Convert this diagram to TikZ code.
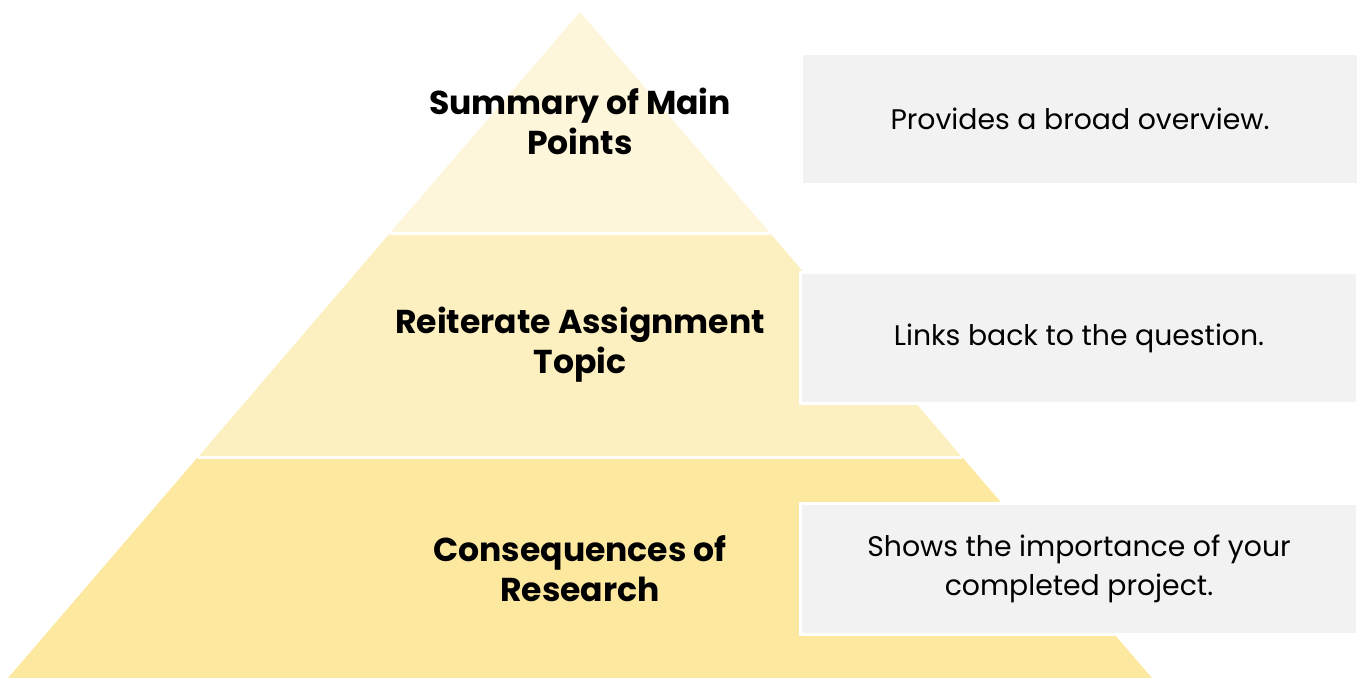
\documentclass[tikz,border=0pt]{standalone}
\usepackage{fontspec}
\setmainfont{Poppins}
\usepackage{xcolor}
\usepackage{tikz}
\usetikzlibrary{positioning}

\definecolor{bandtop}{HTML}{FDF6DA}
\definecolor{bandmid}{HTML}{FDF0C0}
\definecolor{bandlow}{HTML}{FDE8A0}
\definecolor{notegray}{HTML}{F2F2F2}

\begin{document}
\begin{tikzpicture}[x=0.01cm,y=-0.01cm,
  every node/.style={inner sep=0pt},
  level/.style={font=\fontsize{9.4}{11.4}\selectfont\bfseries,align=center},
  note/.style={fill=notegray,draw=white,line width=0.9pt,
    minimum width=5.57cm,minimum height=1.31cm,
    font=\fontsize{8.05}{11.1}\selectfont,align=center}]
  \useasboundingbox (0,0) rectangle (1362,678);
  % pyramid corners
  \coordinate (apex) at (580,12);
  \coordinate (l1) at (390,233);  \coordinate (r1) at (770,233);
  \coordinate (l2) at (198,457);  \coordinate (r2) at (962,457);
  \coordinate (l3) at (8,678);    \coordinate (r3) at (1152,678);

  % Bands
  \fill[bandtop] (apex) -- (r1) -- (l1) -- cycle;
  \fill[bandmid] (l1) -- (r1) -- (r2) -- (l2) -- cycle;
  \fill[bandlow] (l2) -- (r2) -- (r3) -- (l3) -- cycle;
  \draw[white,line width=0.85pt] (l1) -- (r1) (l2) -- (r2);

  % Level labels
  \node[level] (summary) at (580,121) {Summary of Main\\Points};
  \node[level] (topic) at (580,345) {Reiterate Assignment\\Topic};
  \node[level] (result) at (580,569) {Consequences of\\Research};

  % Notes
  \node[note] (overview) at (1080,119) {Provides a broad overview.};
  \node[note] (question) at (1079,338) {Links back to the question.};
  \node[note] (project) at (1079,569) {Shows the importance of your\\completed project.};
\end{tikzpicture}
\end{document}
